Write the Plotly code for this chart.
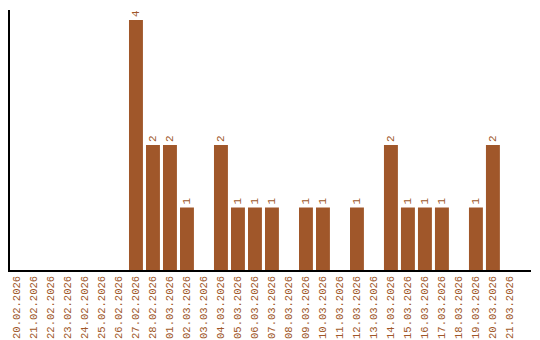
import plotly.graph_objects as go

dates = ["20.02.2026","21.02.2026","22.02.2026","23.02.2026","24.02.2026","25.02.2026",
         "26.02.2026","27.02.2026","28.02.2026","01.03.2026","02.03.2026","03.03.2026",
         "04.03.2026","05.03.2026","06.03.2026","07.03.2026","08.03.2026","09.03.2026",
         "10.03.2026","11.03.2026","12.03.2026","13.03.2026","14.03.2026","15.03.2026",
         "16.03.2026","17.03.2026","18.03.2026","19.03.2026","20.03.2026","21.03.2026"]
counts = [0,0,0,0,0,0,0,4,2,2,1,0,2,1,1,1,0,1,1,0,1,0,2,1,1,1,0,1,2,0]

color = "#a0572a"
labels = [str(v) if v > 0 else "" for v in counts]
font = "Liberation Mono"

fig = go.Figure(go.Bar(
    x=list(range(len(dates))), y=counts, marker_color=color, marker_line_width=0,
    text=labels, textposition="outside", textangle=-90,
    textfont=dict(family=font, size=11, color=color),
    cliponaxis=False, width=0.82,
))
fig.update_layout(
    width=540, height=340, margin=dict(l=10, r=9, t=10, b=70, autoexpand=False),
    paper_bgcolor="white", plot_bgcolor="white",
    showlegend=False,
    xaxis=dict(range=[-0.41, 30.24], tickmode="array", tickvals=list(range(len(dates))),
               ticktext=dates, tickangle=-90, showline=True, linecolor="black", linewidth=1.5,
               showgrid=False, zeroline=False, ticks="", automargin=False,
               tickfont=dict(family=font, size=10.5, color=color)),
    yaxis=dict(range=[0, 4.16], showline=True, linecolor="black", linewidth=1.5,
               showgrid=False, zeroline=False, showticklabels=False, ticks="", automargin=False),
)
fig.write_html("out.html")
